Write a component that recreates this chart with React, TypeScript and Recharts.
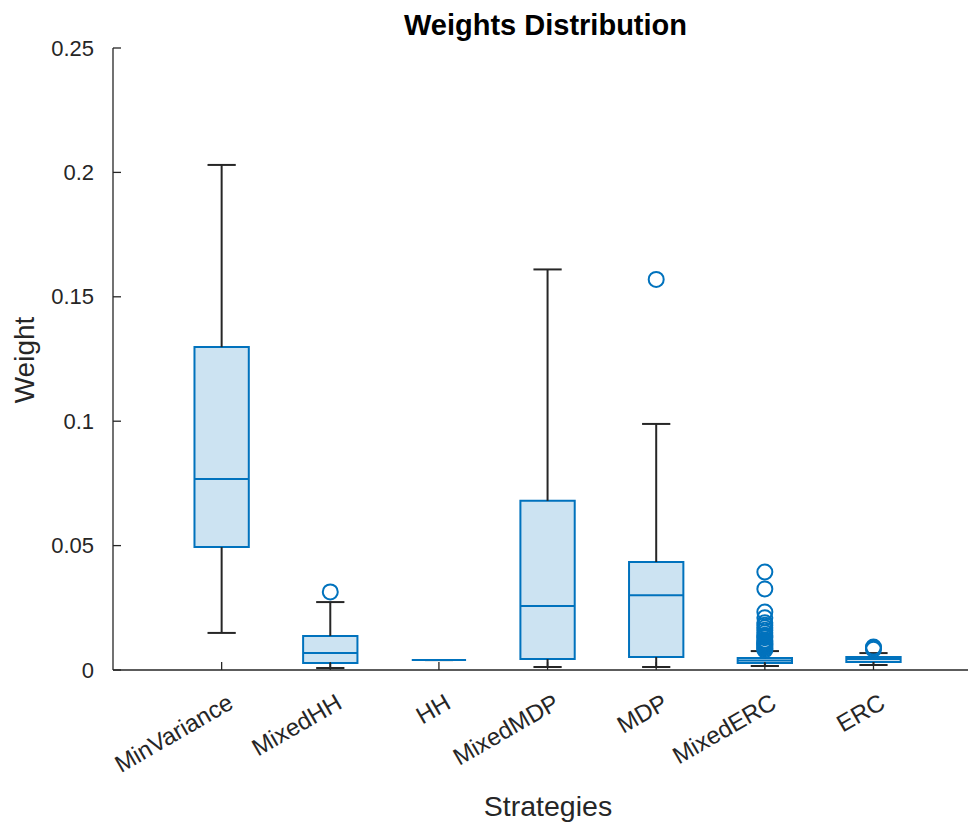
import { ComposedChart, XAxis, YAxis, Scatter, ReferenceArea, ReferenceLine } from "recharts";

const strategies = ["MinVariance", "MixedHH", "HH", "MixedMDP", "MDP", "MixedERC", "ERC"];

// box statistics per strategy
const lowerWhisker = [0.0149, 0.0008, 0.004, 0.0012, 0.0012, 0.0016, 0.002];
const q1 = [0.0494, 0.0028, 0.004, 0.0044, 0.0052, 0.0028, 0.0032];
const median = [0.0768, 0.0068, 0.004, 0.0257, 0.03, 0.0038, 0.0044];
const q3 = [0.1298, 0.0137, 0.004, 0.068, 0.0434, 0.0048, 0.0052];
const upperWhisker = [0.203, 0.0273, 0.004, 0.161, 0.0989, 0.0076, 0.0068];

const outliers: number[][] = [
  [],
  [0.0314],
  [],
  [],
  [0.157],
  [
    0.0394, 0.0326, 0.0233, 0.021, 0.019, 0.018, 0.017, 0.016, 0.015, 0.014, 0.0135, 0.013,
    0.012, 0.0115, 0.011, 0.0105, 0.01, 0.0095, 0.009, 0.0085, 0.008,
  ],
  [0.0092, 0.0088, 0.0083],
];

const yTicks = [0, 0.05, 0.1, 0.15, 0.2, 0.25];
const xTicks = [1, 2, 3, 4, 5, 6, 7];

const BLUE = "#0072BD";
const FILL = "#CCE3F2";
const DARK = "#262626";
const FONT = "Arial, 'Liberation Sans', sans-serif";

const outlierData = outliers.flatMap((vals, i) => vals.map((v) => ({ x: i + 1, y: v })));

const YTick = (props: any) => {
  const { x, y, payload } = props;
  return (
    <g>
      <line x1={x + 19} x2={x + 27} y1={y} y2={y} stroke={DARK} strokeWidth={1.3} />
      <text x={x} y={y} textAnchor="end" dominantBaseline="central" fill={DARK} fontSize={22} fontFamily={FONT}>
        {String(payload.value)}
      </text>
    </g>
  );
};

const XTick = (props: any) => {
  const { x, y, payload } = props;
  const tx = x + 9;
  const ty = y + 30;
  return (
    <g>
      <line x1={x} x2={x} y1={y} y2={y - 8} stroke={DARK} strokeWidth={1.3} />
      <text
        x={tx}
        y={ty}
        textAnchor="end"
        dominantBaseline="central"
        transform={`rotate(-30, ${tx}, ${ty})`}
        fill={DARK}
        fontSize={24}
        fontFamily={FONT}
      >
        {strategies[payload.value - 1]}
      </text>
    </g>
  );
};

const OutlierDot = (props: any) => (
  <circle cx={props.cx} cy={props.cy} r={7.5} fill="none" stroke={BLUE} strokeWidth={2} />
);

export default function App() {
  const boxes = strategies.flatMap((name, i) => {
    const c = i + 1;
    return [
      <ReferenceLine
        key={`wu-${name}`}
        segment={[{ x: c, y: q3[i] }, { x: c, y: upperWhisker[i] }]}
        stroke={DARK}
        strokeWidth={2}
        ifOverflow="visible"
      />,
      <ReferenceLine
        key={`wl-${name}`}
        segment={[{ x: c, y: q1[i] }, { x: c, y: lowerWhisker[i] }]}
        stroke={DARK}
        strokeWidth={2}
        ifOverflow="visible"
      />,
      <ReferenceLine
        key={`cu-${name}`}
        segment={[{ x: c - 0.13, y: upperWhisker[i] }, { x: c + 0.13, y: upperWhisker[i] }]}
        stroke={DARK}
        strokeWidth={2}
        ifOverflow="visible"
      />,
      <ReferenceLine
        key={`cl-${name}`}
        segment={[{ x: c - 0.13, y: lowerWhisker[i] }, { x: c + 0.13, y: lowerWhisker[i] }]}
        stroke={DARK}
        strokeWidth={2}
        ifOverflow="visible"
      />,
      <ReferenceArea
        key={`box-${name}`}
        x1={c - 0.25}
        x2={c + 0.25}
        y1={q1[i]}
        y2={q3[i]}
        fill={FILL}
        fillOpacity={1}
        stroke={BLUE}
        strokeWidth={2}
        ifOverflow="visible"
      />,
      <ReferenceLine
        key={`med-${name}`}
        segment={[{ x: c - 0.25, y: median[i] }, { x: c + 0.25, y: median[i] }]}
        stroke={BLUE}
        strokeWidth={2}
        ifOverflow="visible"
      />,
    ];
  });

  return (
    <div style={{ position: "absolute", left: 0, top: 0, width: 968, height: 825, background: "#fff" }}>
      <div
        style={{
          position: "absolute",
          left: 0,
          width: 1091,
          top: 9,
          textAlign: "center",
          fontFamily: FONT,
          fontWeight: "bold",
          fontSize: 29,
          color: "#000",
        }}
      >
        Weights Distribution
      </div>
      <div
        style={{
          position: "absolute",
          left: 25,
          top: 360,
          transform: "translate(-50%, -50%) rotate(-90deg)",
          fontFamily: FONT,
          fontSize: 28,
          color: DARK,
          whiteSpace: "nowrap",
        }}
      >
        Weight
      </div>
      <div
        style={{
          position: "absolute",
          left: 0,
          width: 1096,
          top: 790,
          textAlign: "center",
          fontFamily: FONT,
          fontSize: 28.5,
          color: DARK,
        }}
      >
        Strategies
      </div>
      <ComposedChart
        width={968}
        height={825}
        margin={{ top: 48, right: 0, bottom: 0, left: 0 }}
        style={{ position: "absolute", left: 0, top: 0 }}
      >
        <XAxis
          type="number"
          dataKey="x"
          domain={[0, 7.87]}
          ticks={xTicks}
          allowDataOverflow
          height={155}
          tickSize={0}
          tickMargin={0}
          tick={<XTick />}
          axisLine={{ stroke: DARK, strokeWidth: 1.3 }}
        />
        <YAxis
          type="number"
          dataKey="y"
          domain={[0, 0.25]}
          ticks={yTicks}
          allowDataOverflow
          width={113}
          tickSize={0}
          tickMargin={19}
          tick={<YTick />}
          axisLine={{ stroke: DARK, strokeWidth: 1.3 }}
        />
        {boxes}
        <Scatter data={outlierData} dataKey="y" shape={<OutlierDot />} isAnimationActive={false} />
      </ComposedChart>
    </div>
  );
}
